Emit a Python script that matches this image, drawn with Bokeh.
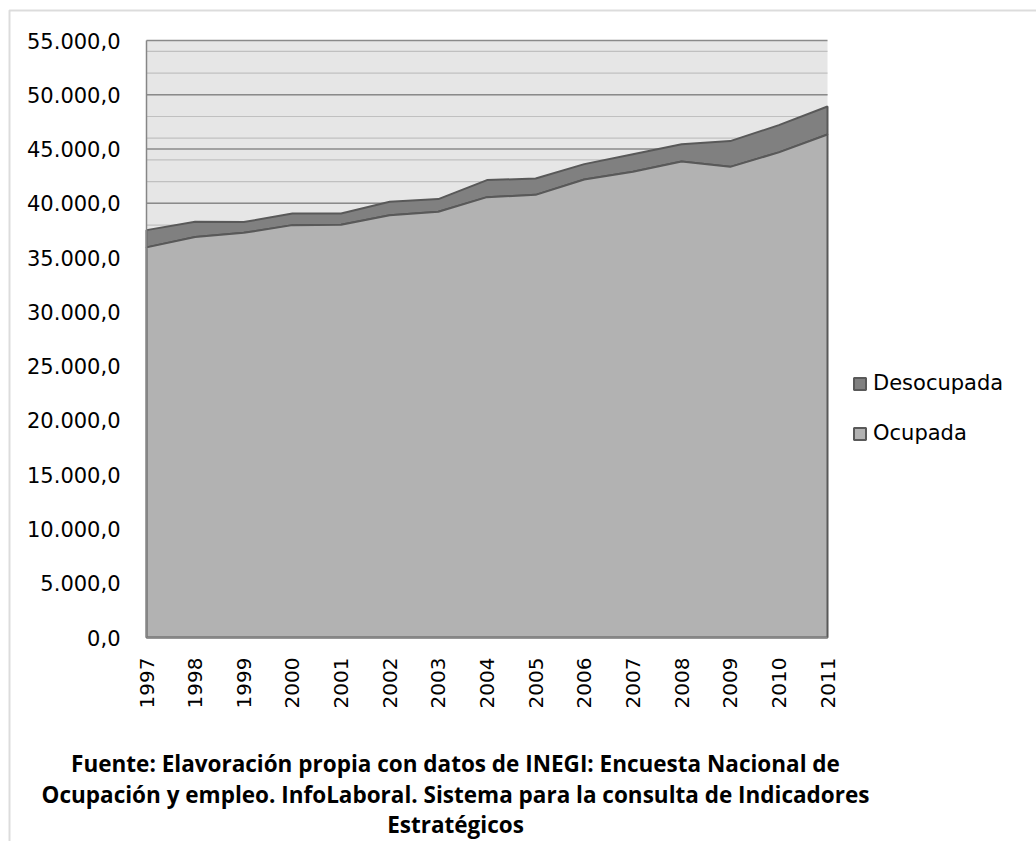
from bokeh.plotting import figure
from bokeh.models import (Range1d, FixedTicker, Legend, LegendItem, Label,
                          BoxAnnotation)
from bokeh.embed import file_html
from bokeh.resources import INLINE

# Población económicamente activa (miles de personas)
years = [1997, 1998, 1999, 2000, 2001, 2002, 2003, 2004, 2005, 2006, 2007, 2008, 2009, 2010, 2011]
ocupada = [35940, 36890, 37280, 37990, 38020, 38910, 39220, 40570, 40780, 42200, 42900, 43860, 43360, 44690, 46340]
desocupada = [1590, 1410, 990, 1080, 1050, 1230, 1170, 1570, 1510, 1410, 1630, 1590, 2370, 2510, 2580]

y_ticks = [0, 5000, 10000, 15000, 20000, 25000, 30000, 35000, 40000, 45000, 50000, 55000]
y_tick_labels = ["0,0", "5.000,0", "10.000,0", "15.000,0", "20.000,0", "25.000,0",
                 "30.000,0", "35.000,0", "40.000,0", "45.000,0", "50.000,0", "55.000,0"]
minor_ticks = list(range(0, 55000, 2000))

footer_lines = [
    "Fuente: Elavoración propia con datos de INEGI: Encuesta Nacional de",
    "Ocupación y empleo. InfoLaboral. Sistema para la consulta de Indicadores",
    "Estratégicos",
]

FONT = "DejaVu Sans"
W, H = 1036, 841
# plot area inside the canvas (pixels from the top-left corner)
PX_L, PX_R, PX_T, PX_B = 146, 827, 40, 637

x0, x1 = years[0], years[-1]
y0, y1 = y_ticks[0], y_ticks[-1]
kx = (x1 - x0) / (PX_R - PX_L)
ky = (y1 - y0) / (PX_B - PX_T)
x_range = Range1d(x0 - PX_L * kx, x1 + (W - PX_R) * kx)
y_range = Range1d(y0 - (H - PX_B) * ky, y1 + PX_T * ky)

p = figure(width=W, height=H, output_backend="svg", toolbar_location=None,
           x_range=x_range, y_range=y_range, min_border=0)
p.background_fill_color = "white"
p.border_fill_color = "white"
p.outline_line_color = None
p.grid.visible = False

# plot area background
p.quad(left=[x0], right=[x1], bottom=[y0], top=[y1], fill_color="#e6e6e6", line_color=None)

# gridlines: light every 2.000, darker every 5.000
p.segment(x0=[x0] * len(minor_ticks), x1=[x1] * len(minor_ticks), y0=minor_ticks, y1=minor_ticks,
          line_color="#c0c0c0", line_width=1.2)
p.segment(x0=[x0] * len(y_ticks), x1=[x1] * len(y_ticks), y0=y_ticks, y1=y_ticks,
          line_color="#8a8a8a", line_width=1.5)

# stacked areas
total = [o + d for o, d in zip(ocupada, desocupada)]
des_x = years + years[::-1]
des_y = total + ocupada[::-1]
ocu_x = years + [years[-1], years[0]]
ocu_y = ocupada + [0, 0]

r_des = p.patch(des_x, des_y, fill_color="#808080", line_color="#595959", line_width=2)
r_ocu = p.patch(ocu_x, ocu_y, fill_color="#b2b2b2", line_color="#595959", line_width=2)

# axes pinned to the plot area
yax = p.yaxis[0]
yax.fixed_location = x0
yax.bounds = (y0, y1)
yax.ticker = FixedTicker(ticks=y_ticks)
yax.major_label_overrides = {t: s for t, s in zip(y_ticks, y_tick_labels)}
yax.major_tick_in = 0
yax.major_tick_out = 0
yax.minor_tick_in = 0
yax.minor_tick_out = 0
yax.major_label_standoff = 26
yax.axis_line_color = "#868686"
yax.axis_line_width = 1.5
yax.major_label_text_font = FONT
yax.major_label_text_font_size = "21px"
yax.major_label_text_color = "black"

xax = p.xaxis[0]
xax.fixed_location = y0
xax.bounds = (x0, x1)
xax.ticker = FixedTicker(ticks=years)
xax.major_label_overrides = {y: str(y) for y in years}
xax.major_label_orientation = 3.14159265 / 2
xax.major_tick_in = 0
xax.major_tick_out = 0
xax.minor_tick_in = 0
xax.minor_tick_out = 0
xax.major_label_standoff = 20
xax.axis_line_color = "#868686"
xax.axis_line_width = 1.5
xax.major_label_text_font = FONT
xax.major_label_text_font_size = "20px"
xax.major_label_text_color = "black"

legend = Legend(items=[LegendItem(label="Desocupada", renderers=[r_des]),
                       LegendItem(label="Ocupada", renderers=[r_ocu])],
                location=(852, 393), orientation="vertical",
                padding=0, margin=0, spacing=20,
                glyph_width=15, glyph_height=15, label_height=30,
                label_standoff=6, border_line_color=None,
                background_fill_alpha=0,
                label_text_font=FONT, label_text_font_size="21px",
                label_text_color="black")
p.add_layout(legend)

# chart frame (only its top and left edges fall inside the page)
p.add_layout(BoxAnnotation(left=9, right=W + 50, top=H - 10, bottom=-50,
                           left_units="screen", right_units="screen",
                           top_units="screen", bottom_units="screen",
                           fill_alpha=0, line_color="#8c8c8c", line_width=2))

# source note
for i, line in enumerate(footer_lines):
    p.add_layout(Label(x=455, y=H - 763 - 30.5 * i, x_units="screen", y_units="screen",
                       text=line, text_align="center", text_baseline="middle",
                       text_font="Open Sans", text_font_style="bold",
                       text_font_size="22.5px", text_color="black"))

open("out.html", "w").write(file_html(p, INLINE))
